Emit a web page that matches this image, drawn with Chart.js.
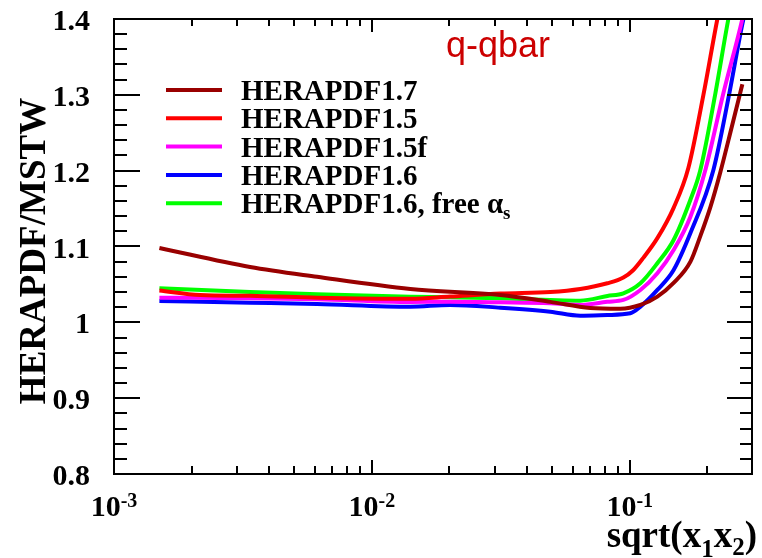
<!DOCTYPE html>
<html>
<head>
<meta charset="utf-8">
<script src="https://cdn.jsdelivr.net/npm/chart.js@4/dist/chart.umd.min.js"></script>
<style>
  html, body { margin: 0; padding: 0; background: #ffffff; }
  #wrap { width: 762px; height: 558px; }
</style>
</head>
<body>
<div id="wrap"><canvas id="c" width="762" height="558"></canvas></div>
<script>
// q-qbar luminosity ratio to MSTW as a function of sqrt(x1 x2)

const seriesLabels = ['HERAPDF1.7', 'HERAPDF1.5', 'HERAPDF1.5f', 'HERAPDF1.6', 'HERAPDF1.6, free α_s'];
const seriesColors = ['#990000', '#ff0000', '#ff00ff', '#0000ff', '#00ff00'];

// HERAPDF1.7
const x17 = [0.0015, 0.00337, 0.00613, 0.0141, 0.0315, 0.0492, 0.0703, 0.0919, 0.110, 0.128, 0.148, 0.172, 0.188, 0.2055, 0.2246, 0.248, 0.2734];
const y17 = [1.098, 1.073, 1.060, 1.044, 1.036, 1.027, 1.019, 1.018, 1.023, 1.034, 1.052, 1.080, 1.114, 1.152, 1.198, 1.256, 1.314];

// HERAPDF1.5
const x15 = [0.0015, 0.00216, 0.00337, 0.00613, 0.0141, 0.0201, 0.0315, 0.0492, 0.0643, 0.0819, 0.0945, 0.1033, 0.1129, 0.128, 0.148, 0.1688, 0.1931, 0.2187, 0.2287];
const y15 = [1.042, 1.036, 1.035, 1.0325, 1.031, 1.034, 1.038, 1.040, 1.044, 1.0515, 1.059, 1.069, 1.085, 1.111, 1.151, 1.2035, 1.300, 1.400, 1.432];

// HERAPDF1.5f
const x15f = [0.0015, 0.00337, 0.00613, 0.0141, 0.0201, 0.0315, 0.0492, 0.0643, 0.0819, 0.0945, 0.110, 0.128, 0.148, 0.1718, 0.1965, 0.2308, 0.2734, 0.2834];
const y15f = [1.0325, 1.0317, 1.0304, 1.0268, 1.0272, 1.0264, 1.0251, 1.0229, 1.0272, 1.0295, 1.0427, 1.0647, 1.0954, 1.139, 1.201, 1.302, 1.400, 1.425];

// HERAPDF1.6
const x16 = [0.0015, 0.00337, 0.00613, 0.0141, 0.0201, 0.0315, 0.0492, 0.0643, 0.0819, 0.1005, 0.110, 0.128, 0.148, 0.1718, 0.2111, 0.2434, 0.2760, 0.2885];
const y16 = [1.0281, 1.0259, 1.0242, 1.0206, 1.0229, 1.0193, 1.014, 1.0088, 1.0097, 1.0119, 1.0206, 1.0427, 1.069, 1.1174, 1.201, 1.302, 1.400, 1.425];

// HERAPDF1.6, free alpha_s
const x16a = [0.0015, 0.00337, 0.00613, 0.0141, 0.0201, 0.0315, 0.0492, 0.0643, 0.0819, 0.0945, 0.110, 0.128, 0.148, 0.1718, 0.1879, 0.2149, 0.2413, 0.2523];
const y16a = [1.0449, 1.040, 1.037, 1.0338, 1.033, 1.0317, 1.0295, 1.0286, 1.0347, 1.0383, 1.0515, 1.0779, 1.1086, 1.1613, 1.201, 1.302, 1.400, 1.432];

// axis ticks
const yTickValues = [0.8, 0.9, 1.0, 1.1, 1.2, 1.3, 1.4];
const yTickLabels = ['0.8', '0.9', '1', '1.1', '1.2', '1.3', '1.4'];
const xTickExponents = [-3, -2, -1];
const xTickLabels = ['-3', '-2', '-1'];

const xSeries = [x17, x15, x15f, x16, x16a];
const ySeries = [y17, y15, y15f, y16, y16a];

const SERIF = '"Liberation Serif", "Times New Roman", serif';
const SANS = '"Liberation Sans", Arial, sans-serif';

function toPoints(xs, ys) {
  return xs.map((x, i) => ({ x: x, y: ys[i] }));
}

// draw a string where "_c" makes the following character a subscript
function drawRich(ctx, text, x, y, size, subSize, subDrop) {
  let cx = x;
  let i = 0;
  while (i < text.length) {
    if (text[i] === '_' && i + 1 < text.length) {
      ctx.font = 'bold ' + subSize + 'px ' + SERIF;
      ctx.fillText(text[i + 1], cx, y + subDrop);
      cx += ctx.measureText(text[i + 1]).width;
      i += 2;
    } else {
      let j = i;
      while (j < text.length && text[j] !== '_') j++;
      const part = text.slice(i, j);
      ctx.font = 'bold ' + size + 'px ' + SERIF;
      ctx.fillText(part, cx, y);
      cx += ctx.measureText(part).width;
      i = j;
    }
  }
  return cx - x;
}

const framePlugin = {
  id: 'frameAndTicks',
  afterDraw(chart) {
    const ctx = chart.ctx;
    const a = chart.chartArea;
    const xs = chart.scales.x;
    const ys = chart.scales.y;
    ctx.save();
    ctx.strokeStyle = '#000';
    ctx.fillStyle = '#000';
    ctx.lineWidth = 2;
    ctx.lineCap = 'butt';

    // frame
    ctx.strokeRect(a.left, a.top, a.right - a.left, a.bottom - a.top);

    // y ticks, major every 0.1 and minor every 0.02
    ctx.beginPath();
    for (let k = 40; k <= 70; k++) {
      const v = k / 50;
      const py = Math.round(ys.getPixelForValue(v));
      const major = (k % 5 === 0);
      const lenL = major ? 26 : 13;
      const lenR = major ? 25 : 12;
      ctx.moveTo(a.left, py); ctx.lineTo(a.left + lenL, py);
      ctx.moveTo(a.right, py); ctx.lineTo(a.right - lenR, py);
    }
    // x ticks on a log scale
    for (let n = -3; n <= -1; n++) {
      for (let k = 1; k <= 9; k++) {
        const v = k * Math.pow(10, n);
        if (v < xs.min * 0.999 || v > xs.max) continue;
        const px = Math.round(xs.getPixelForValue(v));
        const major = (k === 1);
        ctx.moveTo(px, a.bottom); ctx.lineTo(px, a.bottom - (major ? 14 : 8));
        ctx.moveTo(px, a.top); ctx.lineTo(px, a.top + (major ? 13 : 7));
      }
    }
    ctx.stroke();

    // y tick labels
    ctx.font = 'bold 30px ' + SERIF;
    ctx.textAlign = 'right';
    ctx.textBaseline = 'alphabetic';
    yTickValues.forEach((v, i) => {
      const py = ys.getPixelForValue(v);
      ctx.fillText(yTickLabels[i], a.left - 24, py + 11);
    });

    // x tick labels: 10 with a superscript exponent
    ctx.textAlign = 'left';
    xTickExponents.forEach((e, i) => {
      const px = xs.getPixelForValue(Math.pow(10, e));
      ctx.font = 'bold 30px ' + SERIF;
      const wBase = ctx.measureText('10').width;
      ctx.font = 'bold 20px ' + SERIF;
      const wSup = ctx.measureText(xTickLabels[i]).width;
      const x0 = px - (wBase + wSup) / 2;
      ctx.font = 'bold 30px ' + SERIF;
      ctx.fillText('10', x0, 516);
      ctx.font = 'bold 20px ' + SERIF;
      ctx.fillText(xTickLabels[i], x0 + wBase, 507);
    });

    // x axis title
    {
      const main = 37, sub = 25;
      const pieces = [['sqrt(x', main, 0], ['1', sub, 10], ['x', main, 0], ['2', sub, 8], [')', main, 0]];
      let w = 0;
      pieces.forEach(p => { ctx.font = 'bold ' + p[1] + 'px ' + SERIF; w += ctx.measureText(p[0]).width; });
      let cx = 757 - w;
      pieces.forEach(p => {
        ctx.font = 'bold ' + p[1] + 'px ' + SERIF;
        ctx.fillText(p[0], cx, 547 + p[2]);
        cx += ctx.measureText(p[0]).width;
      });
    }

    // y axis title
    ctx.save();
    ctx.translate(45, 251);
    ctx.rotate(-Math.PI / 2);
    ctx.textAlign = 'center';
    ctx.font = 'bold 37px ' + SERIF;
    ctx.fillText('HERAPDF/MSTW', 0, 0);
    ctx.restore();

    // panel label
    ctx.font = '36px ' + SANS;
    ctx.fillStyle = '#cc0000';
    ctx.textAlign = 'left';
    ctx.fillText('q-qbar', 446, 57);

    // legend
    ctx.textAlign = 'left';
    chart.data.datasets.forEach((ds, i) => {
      const ry = 90 + i * 28.3;
      ctx.strokeStyle = ds.borderColor;
      ctx.lineWidth = 4;
      ctx.beginPath();
      ctx.moveTo(166, ry); ctx.lineTo(222, ry);
      ctx.stroke();
      ctx.fillStyle = '#000';
      drawRich(ctx, ds.label, 241, ry + 10, 29, 19, 6);
    });

    ctx.restore();
  }
};

const datasets = seriesLabels.map((label, i) => ({
  label: label,
  data: toPoints(xSeries[i], ySeries[i]),
  borderColor: seriesColors[i],
  backgroundColor: seriesColors[i],
  borderWidth: 4,
  pointRadius: 0,
  fill: false,
  cubicInterpolationMode: 'monotone',
  clip: 0
}));

new Chart(document.getElementById('c'), {
  type: 'line',
  data: { datasets: datasets },
  options: {
    responsive: false,
    animation: false,
    events: [],
    layout: { padding: { left: 114, right: 10, top: 19, bottom: 84 } },
    plugins: { legend: { display: false }, tooltip: { enabled: false } },
    scales: {
      x: { type: 'logarithmic', min: 0.001, max: 0.298, display: false },
      y: { type: 'linear', min: 0.8, max: 1.4, display: false }
    }
  },
  plugins: [framePlugin]
});
</script>
</body>
</html>
